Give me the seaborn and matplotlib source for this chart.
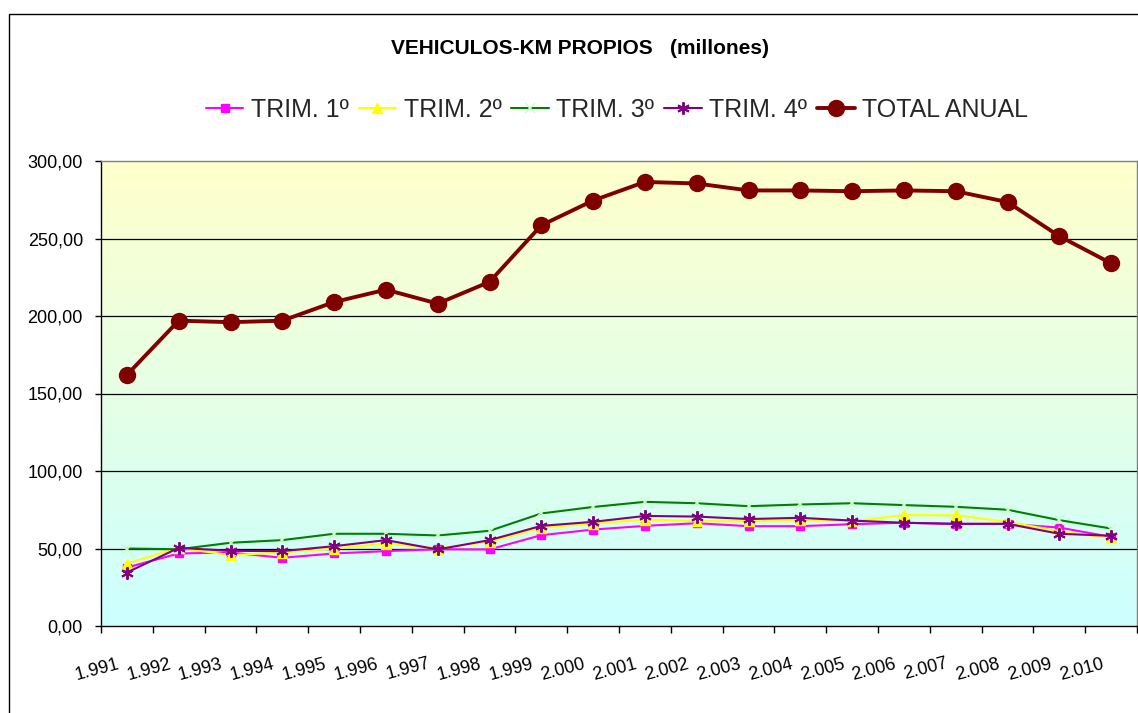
import numpy as np
import pandas as pd
import matplotlib
matplotlib.use("Agg")
import matplotlib.pyplot as plt
import seaborn as sns
from matplotlib.patches import Rectangle
from matplotlib.transforms import ScaledTranslation
from matplotlib.ticker import FuncFormatter

# ---------------- data ----------------
years = ["1.991", "1.992", "1.993", "1.994", "1.995", "1.996", "1.997", "1.998", "1.999", "2.000",
         "2.001", "2.002", "2.003", "2.004", "2.005", "2.006", "2.007", "2.008", "2.009", "2.010"]
trim1 = [37.7, 46.8, 47.4, 44.0, 46.8, 48.3, 49.5, 49.4, 58.6, 62.2,
         64.6, 66.3, 64.4, 64.4, 65.7, 66.6, 65.9, 65.9, 63.5, 57.5]
trim2 = [40.3, 50.4, 45.7, 47.4, 50.0, 53.2, 50.0, 54.3, 63.4, 66.1,
         68.7, 67.6, 67.6, 68.3, 67.6, 71.5, 71.5, 67.2, 61.2, 56.5]
trim3 = [50.0, 49.5, 53.7, 55.4, 59.5, 59.5, 58.4, 61.4, 72.6, 76.8,
         80.1, 79.2, 77.3, 78.4, 79.2, 78.0, 76.9, 75.0, 68.3, 62.9]
trim4 = [34.5, 50.4, 48.5, 48.3, 51.5, 55.4, 49.4, 55.4, 64.6, 67.2,
         71.0, 70.6, 69.0, 69.8, 68.0, 66.6, 65.9, 65.9, 59.5, 58.2]
total = [162, 197, 196, 197, 209, 217, 208, 222, 258.5, 274.5,
         286.5, 285.5, 281, 281, 280.5, 281, 280.5, 273.5, 251.5, 234]
series_names = ["TRIM. 1º", "TRIM. 2º", "TRIM. 3º", "TRIM. 4º", "TOTAL ANUAL"]
title = "VEHICULOS-KM PROPIOS   (millones)"

# ---------------- figure ----------------
sns.set_theme(style="white")
plt.rcParams["font.family"] = ["Liberation Sans", "DejaVu Sans"]

W, H = 1138, 713
fig = plt.figure(figsize=(W / 100, H / 100), dpi=100)
fig.patch.set_facecolor("white")

# outer chart frame
fig.patches.append(Rectangle((9 / W, 0 - 0.01), 1.2, 1 - 14 / H + 0.01,
                             transform=fig.transFigure, fill=False,
                             edgecolor="black", linewidth=1.0, zorder=0))

left, right, top, bottom = 101, 1137, 161, 626
ax = fig.add_axes([left / W, 1 - bottom / H, (right - left) / W, (bottom - top) / H])

x = np.arange(len(years))
ax.set_xlim(-0.5, len(years) - 0.5)
ax.set_ylim(0, 300)

# gradient background (yellow top -> cyan bottom)
top_c = np.array([1.0, 1.0, 0.80])
bot_c = np.array([0.80, 1.0, 1.0])
t = np.linspace(0, 1, 256)[:, None]
grad = (top_c[None, :] * (1 - t) + bot_c[None, :] * t)[:, None, :]
ax.imshow(grad, extent=[-0.5, len(years) - 0.5, 0, 300], aspect="auto",
          zorder=0, interpolation="bilinear")

# gridlines
for v in [50, 100, 150, 200, 250]:
    ax.axhline(v, color="black", linewidth=0.9, zorder=1)

styles = [
    dict(color="#FF00FF", marker="s", markersize=6, mfc="#FF00FF", mec="#FF00FF", lw=1.5),
    dict(color="#FFFF00", marker="^", markersize=7, mfc="#FFFF00", mec="#FFFF00", lw=1.5),
    dict(color="#008000", marker="x", markersize=7, mfc="#CCFFCC", mec="#CCFFCC", lw=1.5, mew=1.2),
    dict(color="#800080", marker=(6, 2, 0), markersize=9, mfc="#800080", mec="#800080", lw=1.5, mew=1.4),
    dict(color="#800000", marker="o", markersize=11.5, mfc="#800000", mec="#800000", lw=2.8),
]
data = [trim1, trim2, trim3, trim4, total]
for name, vals, st in zip(series_names, data, styles):
    df = pd.DataFrame({"x": x, "y": vals})
    sns.lineplot(data=df, x="x", y="y", ax=ax, color=st["color"], linewidth=st["lw"],
                 marker=st["marker"], markersize=st["markersize"],
                 markerfacecolor=st["mfc"], markeredgecolor=st["mec"],
                 markeredgewidth=st.get("mew", 1.0), label=name, zorder=3)

# spines
for s in ["left", "bottom"]:
    ax.spines[s].set_color("black")
    ax.spines[s].set_linewidth(1.0)
for s in ["top", "right"]:
    ax.spines[s].set_color("#808080")
    ax.spines[s].set_linewidth(1.0)

# y axis
ax.set_yticks([0, 50, 100, 150, 200, 250, 300])
ax.yaxis.set_major_formatter(FuncFormatter(lambda v, p: f"{v:.2f}".replace(".", ",")))
ax.tick_params(axis="y", which="major", direction="out", length=4, width=1,
               color="black", labelsize=13, pad=9, left=True, labelcolor="black")

# x axis: labels at category centres, tick marks at boundaries
ax.set_xticks(x)
ax.set_xticklabels(years)
ax.set_xticks(np.arange(-0.5, len(years)), minor=True)
ax.tick_params(axis="x", which="major", length=0, labelsize=13, pad=27, labelcolor="black")
ax.tick_params(axis="x", which="minor", direction="out", length=5, width=1,
               color="black", bottom=True)
offset = ScaledTranslation(-0.08, 0, fig.dpi_scale_trans)
for lab in ax.get_xticklabels():
    lab.set_rotation(15)
    lab.set_ha("right")
    lab.set_va("center")
    lab.set_rotation_mode("anchor")
    lab.set_transform(lab.get_transform() + offset)

ax.set_xlabel("")
ax.set_ylabel("")

# title
fig.text(580 / W, 1 - 48 / H, title, ha="center", va="center",
         fontsize=15, fontweight="bold", color="black")

# legend
handles, labels = ax.get_legend_handles_labels()
leg = fig.legend(handles, labels, loc="center", bbox_to_anchor=(617 / W, 1 - 110 / H),
                 ncol=5, frameon=False, fontsize=18, handlelength=1.5,
                 columnspacing=0.4, handletextpad=0.3, borderaxespad=0)
if ax.get_legend():
    ax.get_legend().remove()

fig.savefig("out.png", dpi=100, facecolor="white")
